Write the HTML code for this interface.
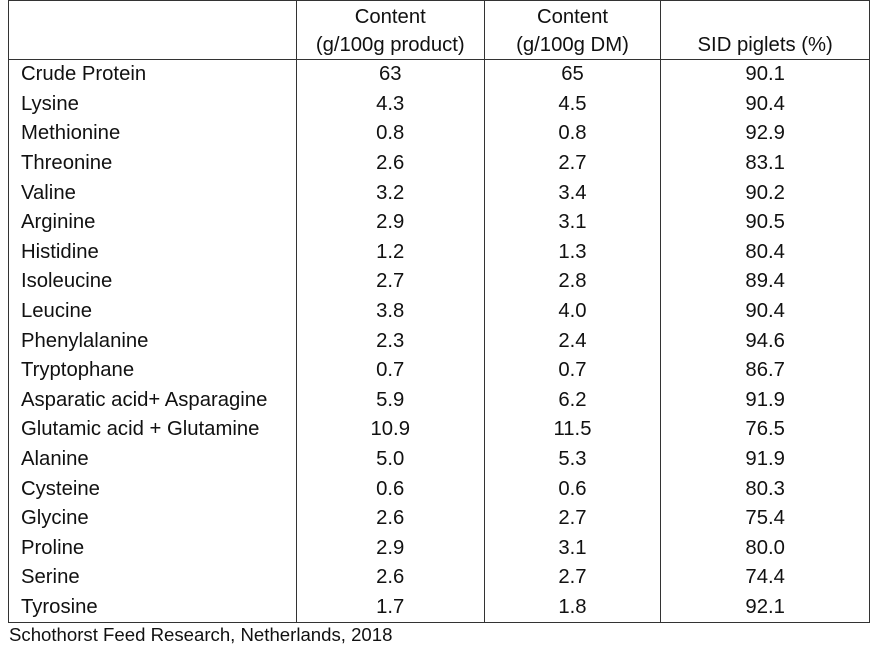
<!DOCTYPE html>
<html><head><meta charset="utf-8"><style>
body{margin:0;background:#fff;width:882px;height:648px;position:relative;font-family:"Liberation Sans",sans-serif;color:#111;overflow:hidden}
table{position:absolute;left:8px;top:0;border-collapse:collapse;width:862px}
td{border-left:1px solid #333;border-right:1px solid #333;height:29.6px;padding:0;font-size:20.3px;text-align:center;line-height:29px;white-space:nowrap}
td:first-child{text-align:left;padding-left:12px}
tr.h td{height:58px;line-height:28px;border-top:1px solid #333;border-bottom:1px solid #333;vertical-align:bottom}
tr:last-child td{border-bottom:1px solid #333}
.f{position:absolute;left:9px;top:624px;font-size:18.6px}
</style></head><body>
<table>
<colgroup><col style="width:288px"><col style="width:188px"><col style="width:177px"><col style="width:209px"></colgroup>
<tr class="h"><td></td><td>Content<br>(g/100g product)</td><td>Content<br>(g/100g DM)</td><td>SID piglets (%)</td></tr>
<tr><td>Crude Protein</td><td>63</td><td>65</td><td>90.1</td></tr>
<tr><td>Lysine</td><td>4.3</td><td>4.5</td><td>90.4</td></tr>
<tr><td>Methionine</td><td>0.8</td><td>0.8</td><td>92.9</td></tr>
<tr><td>Threonine</td><td>2.6</td><td>2.7</td><td>83.1</td></tr>
<tr><td>Valine</td><td>3.2</td><td>3.4</td><td>90.2</td></tr>
<tr><td>Arginine</td><td>2.9</td><td>3.1</td><td>90.5</td></tr>
<tr><td>Histidine</td><td>1.2</td><td>1.3</td><td>80.4</td></tr>
<tr><td>Isoleucine</td><td>2.7</td><td>2.8</td><td>89.4</td></tr>
<tr><td>Leucine</td><td>3.8</td><td>4.0</td><td>90.4</td></tr>
<tr><td>Phenylalanine</td><td>2.3</td><td>2.4</td><td>94.6</td></tr>
<tr><td>Tryptophane</td><td>0.7</td><td>0.7</td><td>86.7</td></tr>
<tr><td>Asparatic acid+ Asparagine</td><td>5.9</td><td>6.2</td><td>91.9</td></tr>
<tr><td>Glutamic acid + Glutamine</td><td>10.9</td><td>11.5</td><td>76.5</td></tr>
<tr><td>Alanine</td><td>5.0</td><td>5.3</td><td>91.9</td></tr>
<tr><td>Cysteine</td><td>0.6</td><td>0.6</td><td>80.3</td></tr>
<tr><td>Glycine</td><td>2.6</td><td>2.7</td><td>75.4</td></tr>
<tr><td>Proline</td><td>2.9</td><td>3.1</td><td>80.0</td></tr>
<tr><td>Serine</td><td>2.6</td><td>2.7</td><td>74.4</td></tr>
<tr><td>Tyrosine</td><td>1.7</td><td>1.8</td><td>92.1</td></tr>
</table>
<div class="f">Schothorst Feed Research, Netherlands, 2018</div>
</body></html>
